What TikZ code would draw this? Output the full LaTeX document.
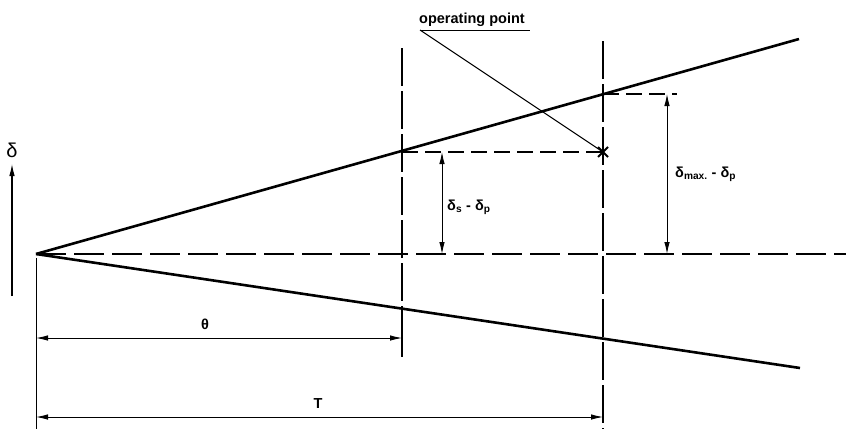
\documentclass[tikz,border=0pt]{standalone}
\usepackage{fontspec}
\setmainfont{Liberation Sans}
\usetikzlibrary{arrows.meta,calc}
\begin{document}
\begin{tikzpicture}[x=1pt,y=-1pt,
  thickline/.style={line width=2.6pt},
  axisdash/.style={line width=1.4pt, dash pattern=on 30pt off 8pt},
  vdash/.style={line width=1.3pt, dash pattern=on 38pt off 5pt},
  hdash/.style={line width=1.3pt, dash pattern=on 16pt off 7pt},
  tip/.tip={Latex[length=12pt,width=5.5pt]},
  dimline/.style={line width=0.9pt, tip-tip},
  lbl/.style={font=\fontsize{14.5}{16}\selectfont\bfseries, inner sep=1pt}]
\useasboundingbox (0,0) rectangle (848,429);
% key points
\coordinate (apex) at (36,254);
\coordinate (upEnd) at (799,39);
\coordinate (loEnd) at (800,368);
\coordinate (axEnd) at (846,254);
\coordinate (s1top) at (402,48);
\coordinate (s1up) at (402,152);
\coordinate (s1lo) at (402,309);
\coordinate (s1bot) at (402,357);
\coordinate (s2top) at (603,41);
\coordinate (s2up) at (603,94);
\coordinate (op) at (603,152);
\coordinate (s2bot) at (603,429);
\coordinate (lead) at (420,30);
% main lines
\draw[thickline] (apex) -- (upEnd);
\draw[thickline] (apex) -- (loEnd);
\draw[axisdash] (apex) -- (axEnd);
% verticals
\draw[vdash] (s1top) -- (s1lo);
\draw[line width=1.3pt] (s1lo) -- (s1bot);
\draw[vdash] (s2top) -- (s2bot);
\draw[line width=1pt] (36,258) -- (36,429);
% dashed horizontals
\draw[hdash] (s1up) -- (op);
\draw[hdash] (s2up) -- (677,94);
% operating point
\node[lbl, anchor=south west] (optxt) at (418,28) {operating point};
\draw[line width=1pt] (lead) -- (530,30);
\draw[line width=1.1pt] (lead) -- (op);
\draw[line width=2pt] ($(op)+(-5,-5)$) -- ($(op)+(5,5)$) ($(op)+(-5,5)$) -- ($(op)+(5,-5)$);
% delta arrow
\draw[line width=1.1pt, -tip] (12,296) -- (12,164);
\node[font=\fontsize{20}{22}\selectfont] (dl) at (12,150) {δ};
% vertical dims
\coordinate (a1t) at (442,152);
\coordinate (a1b) at (442,254);
\draw[dimline] (a1b) -- (a1t);
\node[lbl, anchor=west] (l1) at (446,207) {δ\textsubscript{s} - δ\textsubscript{p}};
\coordinate (a2t) at (667,94);
\coordinate (a2b) at (667,254);
\draw[dimline] (a2b) -- (a2t);
\node[lbl, anchor=west] (l2) at (674,174) {δ\textsubscript{max.} - δ\textsubscript{p}};
% horizontal dims
\coordinate (th0) at (36,338);
\coordinate (th1) at (402,338);
\draw[dimline] (th0) -- (th1);
\node[lbl] (thl) at (205,324) {θ};
\coordinate (T0) at (36,417);
\coordinate (T1) at (603,417);
\draw[dimline] (T0) -- (T1);
\node[lbl] (Tl) at (318,404) {T};
\end{tikzpicture}
\end{document}
